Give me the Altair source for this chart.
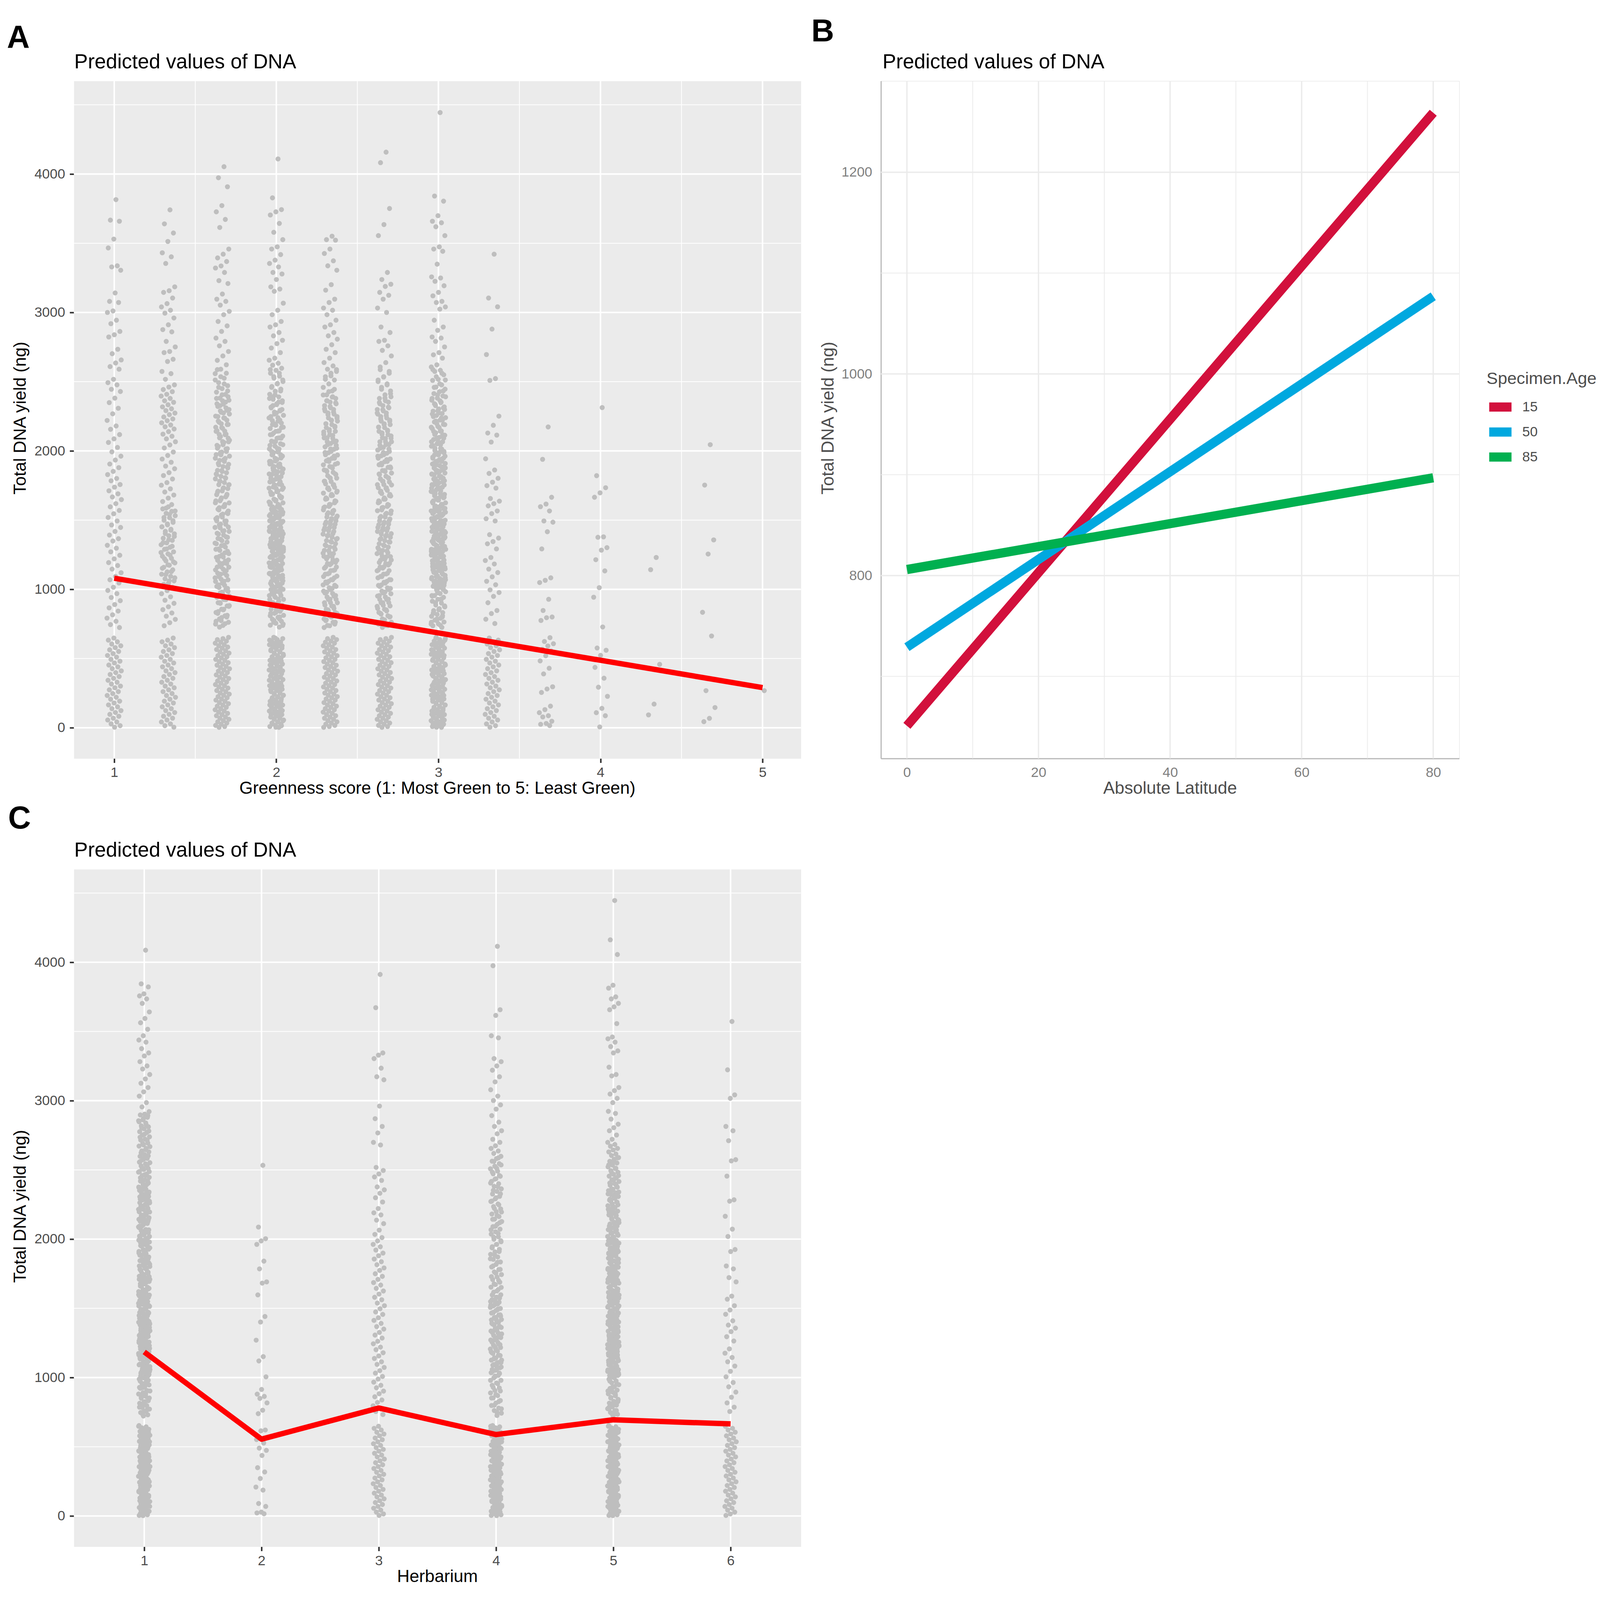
import altair as alt
import pandas as pd

FONT = "Liberation Sans"
PT_COLOR = "#BEBEBE"
TITLE_TEXT = "Predicted values of DNA"
PANEL_LETTERS = ["A", "B", "C"]
LEGEND_TITLE = "Specimen.Age"
Y_TITLE = "Total DNA yield (ng)"
A_X_TITLE = "Greenness score (1: Most Green to 5: Least Green)"
B_X_TITLE = "Absolute Latitude"
C_X_TITLE = "Herbarium"

# ------------------------------------------------------------------ data
LOW_DENSE = [653,644,637,626,618,611,600,592,583,575,565,557,548,539,531,521,513,505,494,487,478,470,460,452,443,435,426,417,409,399,391,382,374,365,356,348,338,330,322,312,304,295,287,278,269,261,251,243,235,225,217,208,200,191,182,174,164,156,148,138,130,121,113,104,95,87,77,69,61,51,43,34,26,17,9,3]
LOW_MED = [648,633,621,605,592,579,563,551,536,522,510,494,481,468,453,440,427,411,398,385,370,357,343,329,316,301,289,274,261,247,233,220,206,192,179,165,151,138,124,110,97,83,69,56,42,28,15,4]
MID_X1 = [2391,2362,2340,2311,2289,2266,2238,2215,2190,2168,2141,2117,2094,2066,2045,2019,1996,1972,1947,1924,1899,1877,1851,1829,1803,1781,1756,1733,1709,1686,1660,1639,1613,1590,1566,1543,1518,1494,1471,1447,1423,1399,1376,1352,1329,1305,1281,1258,1234,1210,1187,1163,1140,1116,1092,1069,1045,1021,998,974,951,927,903,880,856,833,809,786,762,739]
MID_X2 = [1596,1581,1563,1549,1532,1517,1499,1484,1466,1452,1434,1419,1401,1387,1369,1354,1336,1322,1304,1289,1271,1256,1239,1224,1206,1191,1174,1159,1141,1126,1109,1094,1076,1061,1044,1029,1011]
MID_X3 = [2893,2871,2848,2826,2803,2781,2758,2736,2713,2691,2668,2646,2623,2601,2578,2556,2533,2511,2488,2466,2443,2421,2398,2376,2353,2331,2308,2286,2263,2241,2218,2196,2173,2151,2128,2106,2083,2061,2038,2016]
MID_X4 = [2587,2561,2536,2512,2484,2459,2433,2405,2379,2352,2327,2299,2274,2248,2222,2196,2171,2143,2119,2092,2067,2040,2014,1988,1962,1937,1910,1884,1858,1833,1806,1781,1754,1729,1702,1677,1651,1625,1599,1574,1547,1522,1495,1470,1444,1418,1392,1367,1341,1315,1289,1264,1238,1212,1186,1161,1135,1109,1083,1058,1032,1006,980,955,929,903,877,852,826,800,774,749]
MID_X5 = [1993,1971,1949,1927,1905,1884,1862,1840,1818,1797,1775,1753,1731,1710,1688,1666,1644,1623,1601,1579,1557,1536,1514,1492,1470,1449,1427,1405,1383,1362,1340,1318,1296,1275,1253,1231,1209,1188,1166,1144,1122,1101,1079,1057,1035,1014]

GREEN_SCORES = [1, 4/3, 5/3, 2, 7/3, 8/3, 3, 10/3, 11/3, 4, 13/3, 14/3, 5]
A_S1 = [3815,3667,3659,3530,3466,3337,3329,3305,3141,3080,3072,3011,3000,2944,2919,2863,2839,2823,2734,2702,2657,2635,2609,2590,2517,2493,2477,2445,2429,2381,2349,2308,2268,2220,2180,2156,2118,2087,2061,2025,1993,1962,1934,1905,1879,1852,1829,1801,1784,1757,1738,1712,1690,1667,1648,1619,1596,1570,1546,1519,1494,1465,1447,1418,1392,1366,1349,1318,1297,1271,1246,1220,1193,1172,1146,1120,1093,1069,1046,1015,992,969,941,918,890,866,843,816,792,769,745,724] + LOW_MED
A_S2 = [3741,3640,3574,3513,3431,3402,3354,3185,3157,3145,3104,3064,3040,3016,2995,2960,2911,2876,2860,2791,2751,2718,2710,2662,2646,2574,2558,2517,2477,2461,2443,2428,2409,2396,2379,2362,2351,2333,2318,2304,2291,2273,2262,2245,2231,2218,2203,2187,2174,2158,2139,2121,2106,2087,2066,2043,2021,1992,1967,1941,1918,1890,1871,1843,1822,1797,1771,1752,1726,1703,1681,1659,1634,1612,1587,1566,1541,1519,1496,1472,1451,1427,1403,1382,1358,1337,1311,1292,1266,1247,1221,1198,1177,1152,1128,1107,1083,1061,1036,1014,991,968,946,921,899,874,853,829,806,783,759,737] + LOW_MED + MID_X2
A_S3 = [4053,3973,3908,3772,3727,3672,3614,3458,3421,3394,3368,3336,3321,3289,3230,3209,3133,3096,3080,3053,3008,2984,2935,2903,2863,2815,2791,2759,2718,2686,2654,2622,2590,2558,2525,2493,2471,2450,2424,2408,2381,2366,2338,2321,2293,2279,2251,2236,2207,2191,2163,2146,2121,2103,2077,2061,2032,2016,1991,1973,1946,1931,1903,1887,1859,1842,1816,1798,1771,1756,1728,1711,1684,1668,1640,1624,1597,1579,1553,1537,1509,1493,1465,1450,1422,1405,1379,1362,1334,1319,1291,1275,1248,1231,1204,1188,1160,1145,1117,1100,1073,1057,1029,1013,985,970,942,926,899,882,856,839,812,796,769,752,727] + LOW_DENSE + MID_X1 + MID_X4
A_S4 = [4109,3828,3743,3727,3704,3643,3579,3526,3474,3458,3418,3378,3354,3329,3289,3278,3238,3185,3169,3153,3067,3016,2984,2935,2911,2895,2855,2831,2799,2775,2743,2710,2670,2655,2633,2619,2597,2582,2561,2540,2526,2501,2487,2465,2446,2431,2409,2390,2373,2350,2334,2316,2293,2280,2257,2240,2219,2201,2185,2162,2145,2129,2107,2092,2070,2052,2035,2014,1998,1976,1960,1941,1924,1905,1887,1869,1849,1831,1814,1794,1776,1760,1739,1722,1705,1685,1667,1650,1631,1614,1596,1577,1560,1542,1523,1506,1491,1477,1462,1446,1433,1418,1404,1389,1374,1360,1345,1332,1316,1303,1287,1274,1258,1244,1231,1215,1201,1186,1172,1158,1143,1130,1114,1100,1086,1071,1057,1043,1029,1013,1000,985,970,956,942,928,913,900,884,870,856,841,827,812,798,784,769,755,741,727] + LOW_DENSE + MID_X1 + MID_X2 + LOW_MED + MID_X4 + MID_X5
A_S5 = [3551,3526,3522,3458,3426,3373,3337,3305,3201,3161,3096,3072,3032,3016,2984,2944,2911,2895,2855,2831,2807,2767,2734,2710,2670,2638,2614,2590,2574,2542,2517,2445,2428,2404,2389,2362,2347,2321,2303,2280,2262,2237,2220,2196,2178,2154,2137,2112,2095,2071,2053,2029,2012,1987,1970,1946,1928,1904,1887,1862,1845,1821,1803,1779,1762,1737,1720,1695,1678,1654,1636,1612,1595,1570,1553,1529,1511,1486,1470,1445,1428,1403,1386,1362,1345,1320,1303,1279,1261,1237,1220,1195,1178,1153,1137,1112,1095,1070,1053,1029,1011,987,970,945,928,904,886,862,845,820,803,779,762,737,724] + LOW_DENSE + MID_X1 + MID_X4
A_S6 = [4158,4082,3751,3635,3555,3289,3238,3204,3188,3145,3124,3096,3032,3000,2895,2855,2799,2791,2759,2726,2686,2638,2606,2574,2533,2501,2477,2445,2413,2381,2349,2316,2297,2274,2256,2231,2214,2190,2172,2149,2130,2108,2089,2066,2047,2025,2006,1983,1964,1942,1922,1900,1881,1858,1840,1817,1798,1775,1757,1734,1715,1692,1674,1651,1632,1609,1591,1568,1549,1526,1508,1485,1466,1443,1425,1402,1383,1360,1342,1319,1300,1277,1259,1236,1217,1194,1176,1153,1134,1111,1093,1070,1051,1028,1010,987,968,945,927,904,885,862,844,821,802,779,761,738,725] + LOW_DENSE + MID_X1 + MID_X4
A_S7 = [4444,3841,3804,3699,3659,3648,3619,3555,3474,3458,3442,3349,3257,3249,3225,3193,3145,3120,3080,3072,3040,3024,2944,2895,2871,2823,2815,2791,2751,2710,2694,2670,2622,2606,2582,2574,2550,2517,2509,2477,2461,2446,2428,2414,2397,2381,2366,2349,2335,2318,2303,2287,2270,2256,2240,2223,2209,2192,2177,2161,2144,2130,2113,2098,2082,2066,2051,2034,2019,2003,1987,1972,1955,1941,1924,1909,1893,1877,1863,1846,1831,1815,1799,1785,1769,1753,1738,1722,1707,1691,1676,1661,1645,1630,1614,1600,1585,1569,1555,1540,1526,1511,1497,1485,1472,1460,1447,1435,1422,1410,1397,1385,1372,1360,1347,1335,1322,1310,1297,1285,1272,1260,1247,1235,1222,1210,1197,1185,1172,1160,1147,1135,1122,1110,1097,1085,1072,1060,1047,1035,1022,1010,996,983,969,955,942,928,914,901,887,873,860,846,832,819,805,791,778,764,750,737,725] + LOW_DENSE + LOW_MED + MID_X1 + MID_X2 + MID_X4 + MID_X5
A_S8 = [3421,3104,3041,2880,2696,2522,2509,2251,2185,2129,2114,2064,1943,1862,1837,1802,1774,1749,1731,1656,1637,1619,1603,1566,1547,1510,1494,1395,1370,1345,1329,1292,1230,1208,1183,1146,1121,1090,1058,1033,996,977,949,903,847,825,784,753] + LOW_MED
A_S9 = [2173,1939,1665,1616,1597,1566,1494,1485,1416,1292,1083,1065,1049,928,847,800,795,775,651,623,607,591,567,554,520,483,430,389,296,280,255,156,131,109,87,78,47,31,25,16]
A_S10 = [2313,1821,1734,1697,1665,1379,1376,1301,1283,1214,1133,1012,943,728,576,560,523,436,358,293,227,140,109,87,6]
A_S11 = [1230,1142,458,171,93]
A_S12 = [2045,1753,1357,1255,834,663,268,146,68,44]
A_S13 = [268]
A_VALUES = [A_S1, A_S2, A_S3, A_S4, A_S5, A_S6, A_S7, A_S8, A_S9, A_S10, A_S11, A_S12, A_S13]
A_LINE_X = [1, 5]
A_LINE_Y = [1080, 290]

HERBARIA = [1, 2, 3, 4, 5, 6]
C_H1 = [4087,3844,3822,3772,3757,3735,3703,3641,3594,3563,3516,3469,3438,3423,3376,3345,3323,3282,3251,3229,3189,3157,3126,3095,3064,3033,2986,2955,2921,2903,2897,2880,2862,2855,2839,2818,2811,2797,2776,2770,2751,2739,2722,2716,2694,2681,2672,2655,2637,2630,2611,2598,2583,2574,2552,2544,2529,2510,2503,2487,2470,2459,2446,2428,2419,2401,2392,2374,2360,2349,2331,2322,2305,2290,2283,2262,2251,2239,2222,2214,2197,2180,2173,2155,2141,2129,2113,2101,2088,2069,2061,2046,2030,2022,2004,1991,1979,1960,1953,1937,1922,1911,1895,1882,1871,1853,1844,1828,1811,1802,1787,1770,1761,1744,1732,1719,1703,1694,1677,1661,1652,1636,1621,1613,1595,1580,1572,1555,1541,1530,1514,1501,1489,1472,1463,1448,1431,1422,1405,1393,1380,1364,1355,1338,1322,1313,1297,1284,1271,1256,1247,1230,1214,1206,1189,1175,1164,1147,1138,1121,1105,1097,1080,1066,1056,1039,1030,1013,998,989,972,958,947,931,922,905,890,881,864,850,839,823,814,797,783,772,756,747,731,722] + LOW_DENSE + LOW_MED + MID_X1 + MID_X2 + MID_X3 + MID_X4 + MID_X5
C_H2 = [2533,2087,2003,1987,1962,1841,1785,1691,1682,1597,1441,1401,1270,1151,1120,1005,914,880,864,849,817,764,739,621,615,552,527,490,474,437,349,318,271,209,187,90,69,28,22,16]
C_H3 = [3912,3672,3345,3329,3304,3235,3173,3151,2961,2870,2814,2767,2699,2680,2518,2496,2471,2449,2424,2377,2356,2331,2299,2268,2221,2190,2175,2137,2112,2065,2034,2011,1987,1962,1945,1921,1899,1880,1856,1837,1815,1792,1774,1750,1731,1709,1686,1668,1644,1625,1603,1580,1562,1538,1519,1497,1474,1456,1432,1413,1391,1368,1350,1326,1307,1285,1262,1244,1220,1201,1179,1156,1138,1114,1095,1073,1050,1032,1008,989,967,944,926,902,883,861,838,820,796,777,755,733] + LOW_MED
C_H4 = [4115,3975,3657,3616,3469,3454,3304,3282,3251,3220,3173,3136,3079,3033,3001,2970,2939,2892,2845,2814,2783,2761,2721,2699,2674,2655,2637,2619,2598,2582,2563,2545,2527,2508,2491,2472,2454,2436,2417,2400,2381,2363,2345,2326,2309,2290,2272,2254,2235,2218,2199,2181,2163,2144,2127,2108,2090,2072,2053,2036,2017,1999,1981,1962,1945,1926,1908,1890,1871,1854,1835,1817,1799,1780,1763,1744,1726,1708,1689,1672,1653,1635,1617,1598,1581,1562,1544,1526,1507,1490,1471,1453,1435,1416,1399,1380,1362,1344,1325,1308,1289,1271,1253,1234,1217,1198,1180,1162,1143,1126,1107,1089,1071,1052,1035,1016,998,980,961,944,925,907,889,870,853,834,816,798,779,762,743,726] + LOW_DENSE + MID_X2 + LOW_MED + MID_X4
C_H5 = [4446,4162,4056,3834,3813,3750,3735,3703,3678,3657,3557,3460,3447,3423,3391,3360,3345,3242,3189,3179,3095,3073,3048,3017,2986,2923,2908,2867,2830,2805,2783,2752,2721,2699,2684,2671,2655,2644,2630,2615,2604,2589,2577,2562,2550,2535,2522,2510,2494,2483,2468,2455,2442,2428,2416,2401,2389,2375,2361,2350,2334,2322,2308,2295,2282,2268,2255,2241,2229,2214,2202,2188,2175,2161,2148,2136,2121,2109,2095,2082,2068,2055,2042,2028,2015,2001,1989,1975,1962,1948,1935,1922,1908,1895,1881,1869,1855,1842,1828,1815,1802,1788,1775,1761,1749,1735,1722,1708,1695,1682,1668,1655,1641,1629,1615,1602,1588,1575,1562,1548,1535,1521,1509,1495,1482,1468,1455,1442,1428,1415,1401,1389,1375,1362,1348,1335,1322,1308,1295,1281,1269,1255,1242,1228,1215,1202,1188,1175,1161,1149,1135,1122,1108,1095,1082,1068,1055,1041,1029,1015,1002,988,975,962,948,935,921,909,895,882,868,855,842,828,815,801,789,775,762,748,735,722] + LOW_DENSE + LOW_MED + MID_X1 + MID_X2 + MID_X4 + MID_X5
C_H6 = [3572,3223,3042,3017,2814,2783,2711,2574,2565,2455,2284,2274,2165,2072,2019,1925,1910,1806,1785,1722,1691,1588,1566,1519,1488,1457,1410,1379,1357,1332,1295,1264,1207,1176,1145,1114,1083,1045,1005,964,933,895,858,817,786,755] + LOW_MED
C_VALUES = [C_H1, C_H2, C_H3, C_H4, C_H5, C_H6]
C_LINE_Y = [1185, 555, 780, 588, 695, 665]

B_LAT = [0, 80]
AGES = ["15", "50", "85"]
B_START = [651, 729, 806]
B_END = [1259, 1077, 897]
AGE_COLORS = ["#D2103C", "#00A8DF", "#00B050"]

Y_TICKS = [0, 1000, 2000, 3000, 4000]
Y_MINOR = [500, 1500, 2500, 3500, 4500]
A_X_TICKS = [1, 2, 3, 4, 5]
A_X_MINOR = [1.5, 2.5, 3.5, 4.5]
B_Y_TICKS = [800, 1000, 1200]
B_Y_MINOR = [700, 900, 1100]
B_X_TICKS = [0, 20, 40, 60, 80]
B_X_MINOR = [10, 30, 50, 70]

# ------------------------------------------------------------------ layout
WA, HA = 1891, 1762
WB = 1504
ROW_GAP = 288
XT_OFF = 92
YT_HALF = 203          # half the length of the rotated y title
Y_DOM = [-222, 4672]
AX_DOM = [0.751, 5.237]
CX_DOM = [0.4, 6.6]
BX_DOM = [-3.95, 83.95]
BY_DOM = [618.6, 1290.5]
LEGEND_ROWS = [848, 978]   # pixel span of the legend keys inside panel B


def scatter_df(groups, lists):
    rows = []
    for g, vals in zip(groups, lists):
        for i, v in enumerate(vals):
            rows.append({"g": g, "i": i, "y": v})
    return pd.DataFrame(rows)


def sc(dom):
    return alt.Scale(domain=dom, nice=False, zero=False)


def hrules(values, dom, axis, color, width):
    return alt.Chart(pd.DataFrame({"v": values})).mark_rule(color=color, strokeWidth=width).encode(
        y=alt.Y("v:Q", scale=sc(dom), axis=axis))


def vrules(values, dom, axis, color, width):
    return alt.Chart(pd.DataFrame({"v": values})).mark_rule(color=color, strokeWidth=width).encode(
        x=alt.X("v:Q", scale=sc(dom), axis=axis))


def text_layer(txt, x, y, size, weight="normal", color="#000000", align="left", angle=0):
    return alt.Chart(pd.DataFrame({"t": [txt]})).mark_text(
        align=align, baseline="alphabetic", fontSize=size, fontWeight=weight, angle=angle,
        font=FONT, color=color).encode(text="t:N", x=alt.value(x), y=alt.value(y))


def y_title(x, color="#000000"):
    # rotated title anchored at its upper end, reading bottom-to-top
    return text_layer(Y_TITLE, x, HA / 2 - YT_HALF, 45, color=color, align="right", angle=270)


def corner(x, y):
    return alt.Chart(pd.DataFrame({"a": [0]})).mark_rule(opacity=0, strokeWidth=1).encode(
        x=alt.value(x), x2=alt.value(x), y=alt.value(y), y2=alt.value(y + 8))


def gg_axis_y():
    return alt.Axis(values=Y_TICKS, format="d", grid=False, domain=False, ticks=True,
                    tickSize=11, tickWidth=4, tickColor="#333333",
                    labelFontSize=36, labelColor="#4D4D4D", labelFont=FONT, labelPadding=12,
                    title=None)


def gg_axis_x(values):
    return alt.Axis(values=values, format="d", grid=False, domain=False, ticks=True,
                    tickSize=11, tickWidth=4, tickColor="#333333",
                    labelFontSize=36, labelColor="#4D4D4D", labelFont=FONT, labelPadding=9,
                    labelAngle=0, title=None)


# ------------------------------------------------------------------ panel A
axA_x = gg_axis_x(A_X_TICKS)
axA_y = gg_axis_y()
dfA = scatter_df(GREEN_SCORES, A_VALUES)
pointsA = alt.Chart(dfA).transform_calculate(
    xj="datum.g + ((((datum.i + 1) * 0.6180339887) % 1) - 0.5) * 0.09"
).mark_circle(size=170, color=PT_COLOR, opacity=1).encode(
    x=alt.X("xj:Q", scale=sc(AX_DOM), axis=axA_x),
    y=alt.Y("y:Q", scale=sc(Y_DOM), axis=axA_y),
)
lineA = alt.Chart(pd.DataFrame({"x": A_LINE_X, "y": A_LINE_Y})).mark_line(
    color="#FF0000", strokeWidth=14, strokeCap="butt").encode(
    x=alt.X("x:Q", scale=sc(AX_DOM), axis=axA_x), y=alt.Y("y:Q", scale=sc(Y_DOM), axis=axA_y))

panelA = alt.layer(
    hrules(Y_MINOR, Y_DOM, axA_y, "#FFFFFF", 2), vrules(A_X_MINOR, AX_DOM, axA_x, "#FFFFFF", 2),
    hrules(Y_TICKS, Y_DOM, axA_y, "#FFFFFF", 4), vrules(A_X_TICKS, AX_DOM, axA_x, "#FFFFFF", 4),
    pointsA, lineA,
    text_layer(PANEL_LETTERS[0], -174, -87, 82, "bold"),
    text_layer(TITLE_TEXT, 1, -33, 53),
    y_title(-125),
    text_layer(A_X_TITLE, WA / 2, HA + XT_OFF, 45, align="center"),
    corner(-183, -169),
).properties(width=WA, height=HA, view=alt.ViewBackground(fill="#EBEBEB", stroke="transparent"))

# ------------------------------------------------------------------ panel B
b_rows = []
for age, s, e in zip(AGES, B_START, B_END):
    b_rows.append({"lat": B_LAT[0], "val": s, "age": age})
    b_rows.append({"lat": B_LAT[1], "val": e, "age": age})
dfB = pd.DataFrame(b_rows)
age_scale = alt.Scale(domain=AGES, range=AGE_COLORS)

axB_x = alt.Axis(
    values=B_X_TICKS, format="d", grid=False, domain=True, domainColor="#B8B8B8", domainWidth=3,
    ticks=False, labelFontSize=36, labelColor="#808080", labelFont=FONT, labelPadding=20, title=None)
axB_y = alt.Axis(
    values=B_Y_TICKS, format="d", grid=False, domain=True, domainColor="#B8B8B8", domainWidth=3,
    ticks=False, labelFontSize=36, labelColor="#808080", labelFont=FONT, labelPadding=23, title=None)

linesB = alt.Chart(dfB).mark_line(strokeWidth=24, strokeCap="butt").encode(
    x=alt.X("lat:Q", scale=sc(BX_DOM), axis=axB_x),
    y=alt.Y("val:Q", scale=sc(BY_DOM), axis=axB_y),
    color=alt.Color("age:N", scale=age_scale, legend=None),
)

legend_y = alt.Y("age:N", scale=alt.Scale(type="point", domain=AGES, range=LEGEND_ROWS, padding=0), axis=None)
legend_keys = alt.Chart(pd.DataFrame({"age": AGES})).mark_rule(strokeWidth=24, strokeCap="butt").encode(
    x=alt.value(1582), x2=alt.value(1640), y=legend_y,
    color=alt.Color("age:N", scale=age_scale, legend=None))
legend_labels = alt.Chart(pd.DataFrame({"age": AGES})).mark_text(
    align="left", baseline="middle", fontSize=36, font=FONT, color="#4D4D4D").encode(
    x=alt.value(1668), y=legend_y, text="age:N")

panelB = alt.layer(
    hrules(B_Y_MINOR, BY_DOM, None, "#EBEBEB", 2), vrules(B_X_MINOR, BX_DOM, axB_x, "#EBEBEB", 2),
    hrules(B_Y_TICKS, BY_DOM, None, "#EBEBEB", 3.5), vrules(B_X_TICKS, BX_DOM, axB_x, "#EBEBEB", 3.5),
    linesB, legend_keys, legend_labels,
    text_layer(LEGEND_TITLE, 1575, 788, 44, "normal", "#4D4D4D"),
    text_layer(PANEL_LETTERS[1], -181, -103, 82, "bold"),
    text_layer(TITLE_TEXT, 4, -33, 53),
    y_title(-123, "#4D4D4D"),
    text_layer(B_X_TITLE, WB / 2, HA + XT_OFF, 45, color="#4D4D4D", align="center"),
).resolve_scale(y="independent").properties(width=WB, height=HA)

# ------------------------------------------------------------------ panel C
axC_x = gg_axis_x(HERBARIA)
axC_y = gg_axis_y()
dfC = scatter_df(HERBARIA, C_VALUES)
pointsC = alt.Chart(dfC).transform_calculate(
    xj="datum.g + ((((datum.i + 1) * 0.6180339887) % 1) - 0.5) * 0.098"
).mark_circle(size=170, color=PT_COLOR, opacity=1).encode(
    x=alt.X("xj:Q", scale=sc(CX_DOM), axis=axC_x),
    y=alt.Y("y:Q", scale=sc(Y_DOM), axis=axC_y),
)
lineC = alt.Chart(pd.DataFrame({"x": HERBARIA, "y": C_LINE_Y})).mark_line(
    color="#FF0000", strokeWidth=14, strokeCap="butt", strokeJoin="round").encode(
    x=alt.X("x:Q", scale=sc(CX_DOM), axis=axC_x), y=alt.Y("y:Q", scale=sc(Y_DOM), axis=axC_y))

panelC = alt.layer(
    hrules(Y_MINOR, Y_DOM, axC_y, "#FFFFFF", 2),
    hrules(Y_TICKS, Y_DOM, axC_y, "#FFFFFF", 4), vrules(HERBARIA, CX_DOM, axC_x, "#FFFFFF", 4),
    pointsC, lineC,
    text_layer(PANEL_LETTERS[2], -171, -106, 82, "bold"),
    text_layer(TITLE_TEXT, 1, -33, 53),
    y_title(-125),
    text_layer(C_X_TITLE, WA / 2, HA + XT_OFF, 45, align="center"),
).properties(width=WA, height=HA, view=alt.ViewBackground(fill="#EBEBEB", stroke="transparent"))

chart = alt.concat(
    panelA, panelB, panelC, columns=2, spacing={"row": ROW_GAP, "column": 208}, bounds="flush"
).properties(padding=0, background="#FFFFFF").configure_view(stroke="transparent").configure(font=FONT)

chart.save("out.html", embed_options={"renderer": "svg", "actions": False})
